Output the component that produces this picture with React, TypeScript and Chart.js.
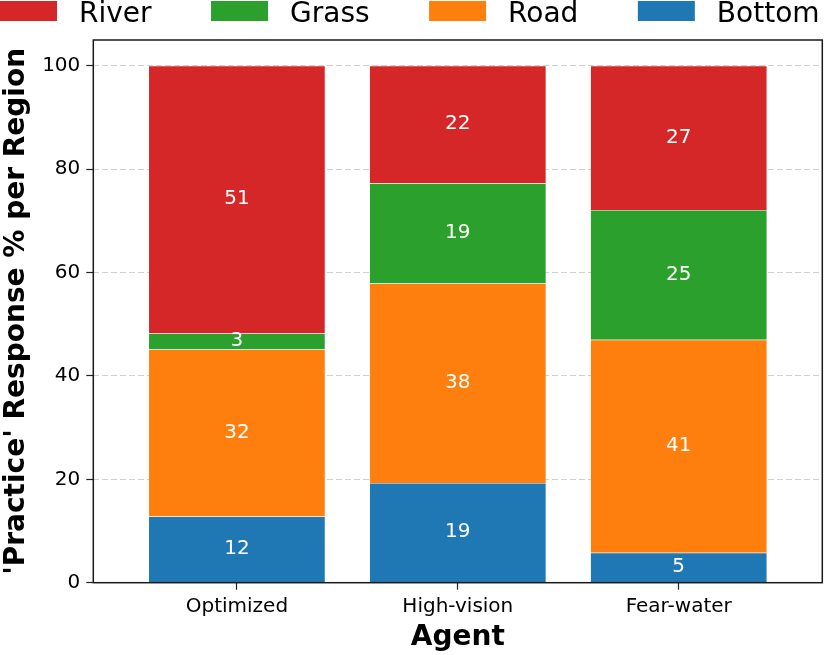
import React, { useEffect, useRef } from "react";
import { Chart, registerables } from "chart.js";

Chart.register(...registerables);

// ---- data ----
const agents = ["Optimized", "High-vision", "Fear-water"];
const bottomPct = [12.8, 19.3, 5.8];
const roadPct = [32.3, 38.6, 41.2];
const grassPct = [3.1, 19.4, 25.1];
const riverPct = [51.8, 22.7, 27.9];
const yTicks = [0, 20, 40, 60, 80, 100];

const seriesNames = ["Bottom", "Road", "Grass", "River"];
const seriesValues = [bottomPct, roadPct, grassPct, riverPct];
const seriesColors = ["#1f77b4", "#ff7f0e", "#2ca02c", "#d62728"];

const FONT = "'DejaVu Sans', 'Liberation Sans', sans-serif";

const drawPlugin = {
  id: "frameLabelsLegend",
  afterDatasetsDraw(chart: any) {
    const ctx = chart.ctx;
    ctx.save();
    ctx.font = `20px ${FONT}`;
    ctx.fillStyle = "#ffffff";
    ctx.textAlign = "center";
    ctx.textBaseline = "middle";
    chart.data.datasets.forEach((ds: any, di: number) => {
      const meta = chart.getDatasetMeta(di);
      meta.data.forEach((el: any, i: number) => {
        const { x, y, base } = el.getProps(["x", "y", "base"], true);
        const v = ds.data[i].y;
        ctx.fillText(String(Math.floor(v)), x, (y + base) / 2 - 0.5);
      });
    });
    ctx.restore();
  },
  afterDraw(chart: any) {
    const ctx = chart.ctx;
    const { left, right, top, bottom } = chart.chartArea;
    ctx.save();
    ctx.strokeStyle = "#1a1a1a";
    ctx.lineWidth = 1.5;
    ctx.strokeRect(left, top, right - left, bottom - top);

    // legend (reverse order of stacking)
    ctx.font = `28px ${FONT}`;
    ctx.textAlign = "left";
    ctx.textBaseline = "alphabetic";
    const boxW = 57;
    const boxH = 20;
    const gap = 22;
    const colGap = 59.5;
    let x = 0;
    const items = [...chart.data.datasets].reverse();
    items.forEach((ds: any) => {
      ctx.fillStyle = ds.backgroundColor;
      ctx.fillRect(x, 1, boxW, boxH);
      ctx.fillStyle = "#000000";
      ctx.fillText(ds.label, x + boxW + gap, 22);
      x += boxW + gap + ctx.measureText(ds.label).width + colGap;
    });
    ctx.restore();
  },
};

export default function App() {
  const canvasRef = useRef<HTMLCanvasElement | null>(null);

  useEffect(() => {
    if (!canvasRef.current) return;
    Chart.defaults.font.family = FONT;
    const chart = new Chart(canvasRef.current, {
      type: "bar",
      data: {
        datasets: seriesNames.map((name, s) => ({
          label: name,
          data: seriesValues[s].map((v, i) => ({ x: i, y: v })),
          backgroundColor: seriesColors[s],
          borderColor: "rgba(255,255,255,0.25)",
          borderWidth: 0.5,
          barPercentage: 1,
          categoryPercentage: 0.8,
        })),
      },
      options: {
        animation: false,
        responsive: false,
        maintainAspectRatio: false,
        layout: { padding: { top: 40, right: 7.7, left: 0, bottom: 0 } },
        plugins: {
          legend: { display: false },
          tooltip: { enabled: false },
          title: { display: false },
        },
        scales: {
          x: {
            type: "linear",
            min: -0.65,
            max: 2.65,
            offset: false,
            stacked: true,
            afterBuildTicks: (s: any) => {
              s.ticks = agents.map((_, i) => ({ value: i }));
            },
            afterFit: (s: any) => {
              s.height = 72.3;
            },
            ticks: {
              color: "#000",
              font: { size: 20 },
              padding: 5,
              autoSkip: false,
              maxRotation: 0,
              callback: (v: any) => agents[v] ?? "",
            },
            grid: {
              offset: false,
              drawOnChartArea: false,
              drawTicks: true,
              tickLength: 7,
              tickColor: "#222",
              tickWidth: 1.2,
              color: "#222",
            },
            border: { display: false },
            title: {
              display: true,
              text: "Agent",
              color: "#000",
              font: { size: 28, weight: "bold" },
              padding: { top: 0, bottom: 0 },
            },
          },
          y: {
            stacked: true,
            min: 0,
            max: 105,
            afterBuildTicks: (s: any) => {
              s.ticks = yTicks.map((v) => ({ value: v }));
            },
            afterFit: (s: any) => {
              s.width = 93.3;
            },
            ticks: { color: "#000", font: { size: 20 }, padding: 6 },
            grid: {
              color: "#cfcfcf",
              lineWidth: 1,
              drawTicks: true,
              tickLength: 7,
              tickColor: "#222",
              tickWidth: 1.2,
              tickBorderDash: [],
              borderDash: [6, 3],
            } as any,
            border: { display: false, dash: [6, 3] },
            title: {
              display: true,
              text: "'Practice' Response % per Region",
              color: "#000",
              font: { size: 28, weight: "bold" },
              padding: { top: 0, bottom: 0 },
            },
          },
        },
      } as any,
      plugins: [drawPlugin],
    });
    return () => chart.destroy();
  }, []);

  return (
    <div style={{ position: "absolute", left: 0, top: 0, width: 830, height: 655, background: "#fff" }}>
      <canvas ref={canvasRef} width={830} height={655} />
    </div>
  );
}
